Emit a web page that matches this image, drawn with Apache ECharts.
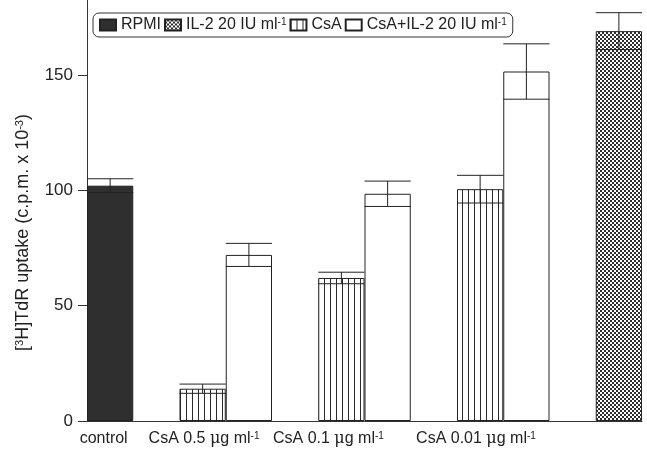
<!DOCTYPE html>
<html>
<head>
<meta charset="utf-8">
<script src="https://cdn.jsdelivr.net/npm/echarts@6/dist/echarts.min.js"></script>
<style>
html,body{margin:0;padding:0;background:#fff;}
#chart{width:647px;height:449px;}
</style>
</head>
<body>
<div id="chart"></div>
<script>
// ---- data ----
const seriesNames = ['RPMI', 'IL-2 20 IU ml-1', 'CsA', 'CsA+IL-2 20 IU ml-1'];
const rpmiMean = [102];
const rpmiSD = [3];
const il2Mean = [169];
const il2SD = [8];
const csaMean = [14, 62, 100.5];
const csaSD = [2, 2.5, 6];
const csaIl2Mean = [72, 98.5, 151.5];
const csaIl2SD = [5, 5.5, 12];
// slot (category column) index of each bar along the x axis
const rpmiSlot = [0];
const csaSlot = [2, 5, 8];
const csaIl2Slot = [3, 6, 9];
const il2Slot = [11];
// x tick labels and where they sit (in slot units)
const xTickLabels = ['control', 'CsA 0.5 \u03bcg ml-1', 'CsA 0.1 \u03bcg ml-1', 'CsA 0.01 \u03bcg ml-1'];
const xTickPos = [0.36, 2.53, 5.22, 8.41];
const yTicks = [0, 50, 100, 150];

// ---- patterns ----
function stripePattern() {
  const c = document.createElement('canvas');
  c.width = 6; c.height = 6;
  const g = c.getContext('2d');
  g.fillStyle = '#ffffff'; g.fillRect(0, 0, 6, 6);
  g.fillStyle = '#2a2a2a'; g.fillRect(0, 0, 1, 6);
  return c;
}
function hatchPattern() {
  const c = document.createElement('canvas');
  c.width = 4; c.height = 4;
  const g = c.getContext('2d');
  g.fillStyle = '#2e2e2e'; g.fillRect(0, 0, 4, 4);
  g.fillStyle = '#ffffff';
  g.fillRect(0, 0, 2, 2);
  g.fillRect(2, 2, 2, 2);
  return c;
}

const toPairs = (slots, vals) => slots.map((s, i) => [s + 0.5, vals[i]]);
const toErr = (slots, vals, sds) => slots.map((s, i) => [s + 0.5, vals[i], sds[i]]);

const errData = [].concat(
  toErr(rpmiSlot, rpmiMean, rpmiSD),
  toErr(csaSlot, csaMean, csaSD),
  toErr(csaIl2Slot, csaIl2Mean, csaIl2SD),
  toErr(il2Slot, il2Mean, il2SD)
);

const ink = '#222';
const barBase = { type: 'bar', barWidth: '100%', barGap: '-100%' };
const supStyle = { fontSize: 10, verticalAlign: 'top', padding: [0, 0, 6, 0], color: ink };

const chart = echarts.init(document.getElementById('chart'), null, { renderer: 'canvas' });
chart.setOption({
  backgroundColor: '#ffffff',
  animation: false,
  textStyle: { fontFamily: 'Liberation Sans, Arial, sans-serif', color: ink },
  grid: { left: 87, right: 5, top: 0, bottom: 28, containLabel: false },
  legend: {
    data: seriesNames,
    left: 93, top: 13,
    padding: [4, 6],
    itemGap: 3,
    itemWidth: 16, itemHeight: 11,
    borderColor: '#333', borderWidth: 1, borderRadius: 6,
    backgroundColor: '#fff',
    icon: 'rect',
    formatter: n => n.replace('ml-1', 'ml{sup|-1}'),
    textStyle: {
      fontSize: 16, color: ink, fontFamily: 'Liberation Sans, Arial, sans-serif',
      rich: { sup: supStyle }
    }
  },
  xAxis: {
    type: 'value', min: 0, max: 12,
    splitLine: { show: false },
    axisLine: { show: true, onZero: false, lineStyle: { color: '#333', width: 1 } },
    axisTick: { show: false },
    axisLabel: {
      customValues: xTickPos,
      margin: 10,
      fontSize: 16, color: ink,
      formatter: v => {
        const i = xTickPos.indexOf(v);
        return i < 0 ? '' : xTickLabels[i].replace('\u03bc', '{mu|\u03bc}').replace('ml-1', 'ml{sup|-1}');
      },
      rich: {
        sup: supStyle,
        mu: { fontSize: 16, color: ink, fontFamily: 'DejaVu Serif, serif' }
      }
    }
  },
  yAxis: {
    type: 'value', min: 0, max: 182.5, interval: 50,
    name: '[{sup|3}H]TdR uptake (c.p.m. x 10{sup|-3})',
    nameLocation: 'middle', nameGap: 55,
    nameTextStyle: {
      fontSize: 18, color: ink, padding: [0, 44, 0, 0],
      rich: { sup: { fontSize: 11, verticalAlign: 'top', padding: [0, 0, 7, 0], color: ink } }
    },
    splitLine: { show: false },
    axisLine: { show: true, lineStyle: { color: '#333', width: 1 } },
    axisTick: { show: true, length: 9, customValues: yTicks, lineStyle: { color: '#333' } },
    axisLabel: { customValues: yTicks, margin: 14, fontSize: 17, color: ink }
  },
  series: [
    Object.assign({}, barBase, {
      name: seriesNames[0], data: toPairs(rpmiSlot, rpmiMean),
      itemStyle: { color: '#2f2f2f', borderColor: ink, borderWidth: 1 }
    }),
    Object.assign({}, barBase, {
      name: seriesNames[1], data: toPairs(il2Slot, il2Mean),
      itemStyle: { color: { image: hatchPattern(), repeat: 'repeat' }, borderColor: ink, borderWidth: 1 }
    }),
    Object.assign({}, barBase, {
      name: seriesNames[2], data: toPairs(csaSlot, csaMean),
      itemStyle: { color: { image: stripePattern(), repeat: 'repeat' }, borderColor: ink, borderWidth: 1 }
    }),
    Object.assign({}, barBase, {
      name: seriesNames[3], data: toPairs(csaIl2Slot, csaIl2Mean),
      itemStyle: { color: '#ffffff', borderColor: ink, borderWidth: 1 }
    }),
    {
      type: 'custom', name: 'err', z: 10,
      data: errData,
      encode: { x: 0, y: 1 },
      renderItem: (params, api) => {
        const x = api.value(0), m = api.value(1), s = api.value(2);
        const top = api.coord([x, m + s]);
        const bot = api.coord([x, m - s]);
        const w = api.size([1, 0])[0];
        const x0 = top[0] - w / 2, x1 = top[0] + w / 2;
        const st = { stroke: ink, lineWidth: 1 };
        return {
          type: 'group',
          children: [
            { type: 'line', shape: { x1: x0, y1: top[1], x2: x1, y2: top[1] }, style: st },
            { type: 'line', shape: { x1: x0, y1: bot[1], x2: x1, y2: bot[1] }, style: st },
            { type: 'line', shape: { x1: top[0], y1: top[1], x2: top[0], y2: bot[1] }, style: st }
          ]
        };
      }
    }
  ]
});
</script>
</body>
</html>
